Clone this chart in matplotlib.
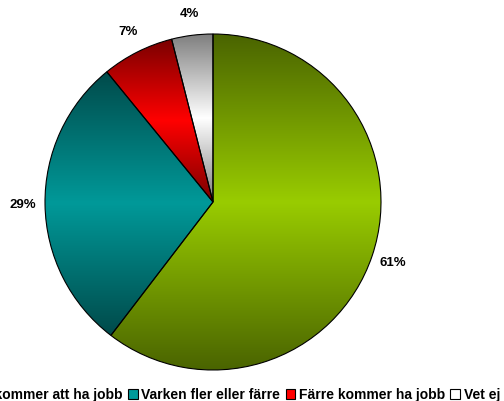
import matplotlib
matplotlib.use("Agg")
import matplotlib.pyplot as plt
import numpy as np
from matplotlib.colors import to_rgb
from matplotlib.patches import Patch

labels = ["Fler kommer att ha jobb", "Varken fler eller färre", "Färre kommer ha jobb", "Vet ej"]
values = [61, 29, 7, 4]
bright = ["#99cc00", "#009999", "#ff0000", "#ffffff"]
dark = ["#4a6400", "#004a4a", "#7a0000", "#7f7f7f"]

plt.rcParams["font.family"] = ["Liberation Sans", "DejaVu Sans"]

fig = plt.figure(figsize=(5.04, 4.01), dpi=100)
# pie centre and radius in pixels
r_px = 168
cx, cy = 213, 401 - 202
ax = fig.add_axes([(cx - r_px) / 504, (cy - r_px) / 401, 2 * r_px / 504, 2 * r_px / 401])

wedges, texts = ax.pie(
    values,
    startangle=90,
    counterclock=False,
    labels=[f"{v}%" for v in values],
    labeldistance=1.13,
    wedgeprops=dict(linewidth=0.8, edgecolor="black"),
    textprops=dict(fontsize=9.5, fontweight="bold"),
)
for t in texts:
    t.set_ha("center")
    t.set_va("center")

# vertical gradient per slice: dark at top and bottom, bright in the middle
for w, b, d in zip(wedges, bright, dark):
    ext = w.get_path().get_extents()
    t = np.linspace(0, 1, 256)
    k = 1 - np.abs(2 * t - 1)
    cb, cd = np.array(to_rgb(b)), np.array(to_rgb(d))
    img = (cd[None, :] + (cb - cd)[None, :] * k[:, None])[:, None, :]
    im = ax.imshow(img, extent=[ext.x0, ext.x1, ext.y0, ext.y1], origin="lower",
                   aspect="auto", zorder=1, interpolation="bilinear")
    im.set_clip_path(w)
    w.set_facecolor("none")
    w.set_zorder(2)

ax.set_xlim(-1, 1)
ax.set_ylim(-1, 1)
ax.set_aspect("equal")
ax.axis("off")

handles = [Patch(facecolor=c, edgecolor="black", linewidth=0.8) for c in bright]
fig.legend(
    handles, labels,
    loc="center right",
    bbox_to_anchor=(500 / 504, 6 / 401),
    ncol=4,
    frameon=False,
    handlelength=0.7,
    handleheight=0.7,
    handletextpad=0.25,
    columnspacing=0.4,
    borderpad=0,
    borderaxespad=0,
    prop=dict(weight="bold", size=10),
)

fig.savefig("out.png", dpi=100)
